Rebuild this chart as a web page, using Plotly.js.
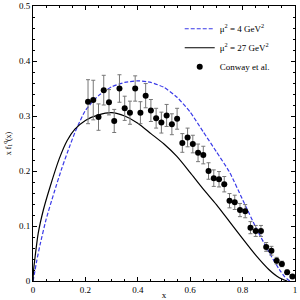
<!DOCTYPE html>
<html><head><meta charset="utf-8">
<script src="https://cdn.plot.ly/plotly-3.0.1.min.js"></script>
<style>html,body{margin:0;padding:0;background:#fff;}#c{width:300px;height:300px;}</style>
</head><body><div id="c"></div>
<script>
var dataX = [0.21,0.23,0.25,0.27,0.29,0.31,0.33,0.35,0.37,0.39,0.41,0.43,0.45,0.47,0.49,0.51,0.53,0.55,0.57,0.59,0.61,0.63,0.65,0.67,0.69,0.71,0.73,0.75,0.77,0.79,0.81,0.83,0.85,0.87,0.89,0.91,0.93,0.95,0.97,0.99];
var dataY = [0.326,0.329,0.298,0.347,0.325,0.291,0.350,0.314,0.306,0.350,0.306,0.337,0.310,0.296,0.288,0.301,0.285,0.295,0.251,0.261,0.249,0.233,0.229,0.200,0.187,0.185,0.176,0.146,0.143,0.129,0.127,0.097,0.091,0.091,0.062,0.055,0.037,0.031,0.016,0.008];
var dataErr = [0.040,0.036,0.024,0.027,0.023,0.021,0.025,0.022,0.021,0.023,0.020,0.022,0.020,0.018,0.019,0.020,0.019,0.019,0.017,0.017,0.016,0.016,0.016,0.015,0.015,0.014,0.014,0.013,0.013,0.012,0.012,0.011,0.010,0.010,0.008,0.008,0.006,0.005,0.004,0.003];

var blueX = [0,0.005,0.014,0.027,0.05,0.08,0.11,0.14,0.16,0.2,0.25,0.3,0.35,0.4,0.45,0.5,0.55,0.6,0.65,0.7,0.75,0.8,0.85,0.9,0.94,0.96,0.98];
var blueY = [0,0.012,0.036,0.066,0.112,0.160,0.205,0.245,0.270,0.310,0.337,0.353,0.361,0.364,0.361,0.352,0.334,0.307,0.271,0.235,0.198,0.148,0.098,0.053,0.021,0.008,0];

var blackX = [0,0.002,0.008,0.02,0.04,0.065,0.1,0.13,0.16,0.2,0.25,0.3,0.35,0.4,0.45,0.5,0.55,0.6,0.65,0.7,0.75,0.8,0.85,0.9,0.94,0.97];
var blackY = [0,0.018,0.044,0.087,0.130,0.171,0.222,0.255,0.276,0.292,0.302,0.306,0.300,0.287,0.268,0.249,0.226,0.197,0.167,0.139,0.108,0.077,0.047,0.021,0.006,0];

var serif = 'Liberation Serif, Times New Roman, serif';
var traces = [
  {x: blueX, y: blueY, mode:'lines', line:{color:'#3a3ae8', width:1.2, dash:'4px,2px', shape:'spline', smoothing:0.6}, name:'μ<sup>2</sup> = 4 GeV<sup>2</sup>'},
  {x: blackX, y: blackY, mode:'lines', line:{color:'#000', width:1.2, shape:'spline', smoothing:0.6}, name:'μ<sup>2</sup> = 27 GeV<sup>2</sup>'},
  {x: dataX, y: dataY, mode:'markers', marker:{color:'#000', size:6},
   error_y:{type:'data', array: dataErr, visible:true, color:'#777', thickness:1, width:2},
   name:'Conway et al.'}
];
var layout = {
  width:300, height:300,
  margin:{l:33, r:5, t:6, b:19},
  paper_bgcolor:'#fff', plot_bgcolor:'#fff',
  font:{family:serif, size:9, color:'#000'},
  showlegend:true,
  legend:{x:0.56, y:0.97, xanchor:'left', yanchor:'top', bgcolor:'rgba(0,0,0,0)', font:{family:serif, size:9}, itemwidth:30, tracegroupgap:0},
  xaxis:{range:[0,1], tickvals:[0,0.2,0.4,0.6,0.8,1], ticktext:['0','0.2','0.4','0.6','0.8','1'],
    ticks:'inside', ticklen:4, tickcolor:'#000', showline:true, linecolor:'#000', linewidth:1, mirror:'allticks',
    showgrid:false, zeroline:false, minor:{dtick:0.05, ticks:'inside', ticklen:2, tickcolor:'#000'},
    title:{text:'x', font:{family:serif, size:9}, standoff:0}, tickfont:{family:serif,size:9}},
  yaxis:{range:[0,0.5], tickvals:[0,0.1,0.2,0.3,0.4,0.5], ticktext:['0','0.1','0.2','0.3','0.4','0.5'],
    ticks:'inside', ticklen:4, tickcolor:'#000', showline:true, linecolor:'#000', linewidth:1, mirror:'allticks',
    showgrid:false, zeroline:false, minor:{dtick:0.02, ticks:'inside', ticklen:2, tickcolor:'#000'},
    title:{text:'x f<sub>1</sub><sup>q</sup>(x)', font:{family:serif, size:8}, standoff:6}, tickfont:{family:serif,size:9}}
};
Plotly.newPlot('c', traces, layout, {staticPlot:true, displayModeBar:false});
</script></body></html>
